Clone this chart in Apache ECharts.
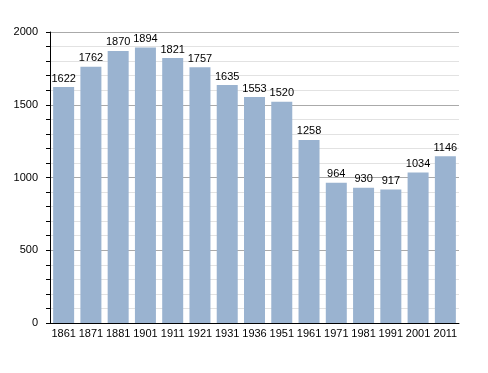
<!DOCTYPE html>
<html><head><meta charset="utf-8">
<script src="https://cdn.jsdelivr.net/npm/echarts@6/dist/echarts.min.js"></script>
<style>html,body{margin:0;padding:0;background:#fff}#c{width:488px;height:373px}</style>
</head><body><div id="c"></div>
<script>
const categories = ['1861','1871','1881','1901','1911','1921','1931','1936','1951','1961','1971','1981','1991','2001','2011'];
const population = [1622,1762,1870,1894,1821,1757,1635,1553,1520,1258,964,930,917,1034,1146];
const yTicks = [0,500,1000,1500,2000];

const chart = echarts.init(document.getElementById('c'));
chart.setOption({
  animation: false,
  textStyle: {fontFamily: 'Liberation Sans, Arial, sans-serif'},
  grid: {left: 50, right: 29, top: 32, bottom: 50},
  xAxis: {
    type: 'category', data: categories,
    axisLine: {lineStyle: {color: '#000', width: 1}},
    axisTick: {show: false},
    axisLabel: {color: '#000', fontSize: 11, margin: 5, interval: 0}
  },
  yAxis: {
    type: 'value', min: yTicks[0], max: yTicks[yTicks.length-1], interval: 500,
    axisLine: {show: true, lineStyle: {color: '#000', width: 1}},
    axisTick: {show: true, length: 4, lineStyle: {color: '#000'}},
    minorTick: {show: true, splitNumber: 5, length: 4, lineStyle: {color: '#000'}},
    splitLine: {show: true, lineStyle: {color: '#aaaaaa', width: 1}},
    minorSplitLine: {show: true, lineStyle: {color: '#e2e2e2', width: 1}},
    axisLabel: {color: '#000', fontSize: 11, margin: 12, formatter: v => String(v)}
  },
  series: [{
    type: 'bar', data: population, barWidth: 21,
    itemStyle: {color: '#9ab3d0'},
    label: {show: true, position: 'top', color: '#000', fontSize: 11, distance: 3}
  }]
});
</script></body></html>
